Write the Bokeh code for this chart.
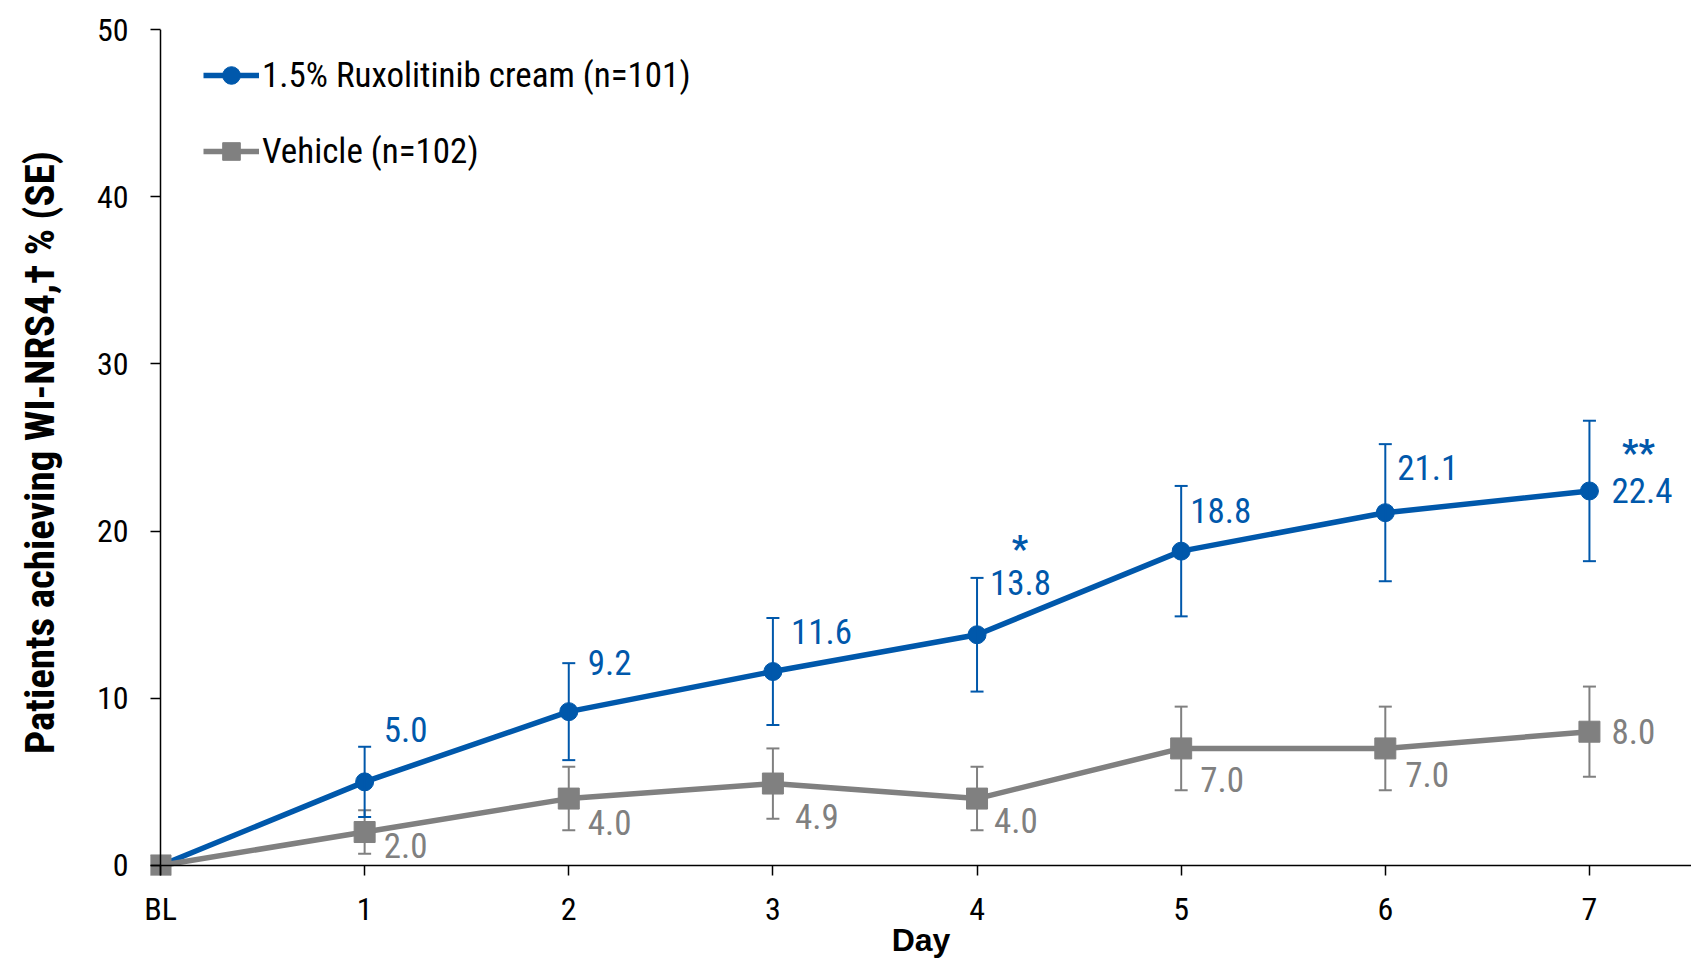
from bokeh.plotting import figure
from bokeh.models import (ColumnDataSource, Whisker, TeeHead, FixedTicker,
                          Legend, LegendItem, Span)
from bokeh.core.properties import value
from bokeh.embed import file_html
from bokeh.resources import INLINE

# ---- data -------------------------------------------------------------
days = [0, 1, 2, 3, 4, 5, 6, 7]
day_labels = ["BL", "1", "2", "3", "4", "5", "6", "7"]
rux_pct = [0.0, 5.0, 9.2, 11.6, 13.8, 18.8, 21.1, 22.4]
rux_se = [0.0, 2.1, 2.9, 3.2, 3.4, 3.9, 4.1, 4.2]
veh_pct = [0.0, 2.0, 4.0, 4.9, 4.0, 7.0, 7.0, 8.0]
veh_se = [0.0, 1.3, 1.9, 2.1, 1.9, 2.5, 2.5, 2.7]
sig_days = [4, 7]
sig_marks = ["*", "**"]
y_ticks = [0, 10, 20, 30, 40, 50]

# ---- styling ------------------------------------------------------------
BLUE = "#0058AB"
GREY = "#808080"
FONT = "Roboto Condensed"

# pixel nudges for the value labels (label left edge / vertical centre)
rux_dx = [0, 19, 19, 18, 13, 9, 12, 22]
rux_dy = [0, -52, -49, -40, -52, -41, -45, 0]
veh_dx = [0, 19, 19, 22, 17, 19, 20, 22]
veh_dy = [0, 13, 24, 33, 22, 31, 26, 0]
sig_dx = [43, 49]
sig_dy = [-86, -38]

p = figure(width=1691, height=960, output_backend="svg", toolbar_location=None,
           x_range=(-0.049, 7.5), y_range=(-0.6, 50),
           min_border_left=150, min_border_right=0,
           min_border_top=29, min_border_bottom=85)
p.outline_line_color = None
p.xgrid.visible = False
p.ygrid.visible = False

# axis lines through the data origin (frame edges sit a little outside it
# so the baseline markers are drawn whole)
p.add_layout(Span(location=0, dimension="width", line_color="black", line_width=1.5))
p.add_layout(Span(location=0, dimension="height", line_color="black", line_width=1.5))

for ax in (p.xaxis[0], p.yaxis[0]):
    ax.axis_line_color = None
    ax.major_tick_line_color = "black"
    ax.major_tick_line_width = 1.5
    ax.major_tick_in = 10
    ax.major_tick_out = 0
    ax.minor_tick_line_color = None
    ax.major_label_text_font = FONT
    ax.major_label_text_font_size = "32px"
    ax.major_label_text_color = "black"
    ax.axis_label_text_font_style = "bold"
    ax.axis_label_text_color = "black"

p.xaxis.bounds = (0, 7.5)
p.xaxis.ticker = FixedTicker(ticks=days)
p.xaxis.major_label_overrides = {d: lab for d, lab in zip(days, day_labels)}
p.xaxis.major_label_standoff = 14
p.xaxis.axis_label = "Day"
p.xaxis.axis_label_text_font = "Liberation Sans"
p.xaxis.axis_label_text_font_size = "32px"
p.xaxis.axis_label_standoff = -9

p.yaxis.ticker = FixedTicker(ticks=y_ticks)
p.yaxis.major_label_standoff = 22
p.yaxis.axis_label = "Patients achieving WI-NRS4,\u2020 % (SE)"
p.yaxis.axis_label_text_font = FONT
p.yaxis.axis_label_text_font_size = "41px"
p.yaxis.axis_label_standoff = 30

# ---- error bars -----------------------------------------------------------
def err_source(vals, se):
    return ColumnDataSource(dict(
        x=days[1:],
        upper=[v + s for v, s in zip(vals[1:], se[1:])],
        lower=[v - s for v, s in zip(vals[1:], se[1:])],
    ))

for vals, se, col in ((veh_pct, veh_se, GREY), (rux_pct, rux_se, BLUE)):
    p.add_layout(Whisker(source=err_source(vals, se), base="x", upper="upper",
                         lower="lower", line_color=col, line_width=2,
                         upper_head=TeeHead(size=13, line_color=col, line_width=2),
                         lower_head=TeeHead(size=13, line_color=col, line_width=2),
                         level="glyph"))

# ---- series -----------------------------------------------------------------
rux_src = ColumnDataSource(dict(x=days, y=rux_pct))
veh_src = ColumnDataSource(dict(x=days, y=veh_pct))

rux_line = p.line("x", "y", source=rux_src, line_color=BLUE, line_width=5.5)
rux_pts = p.scatter("x", "y", source=rux_src, marker="circle", size=18,
                    fill_color=BLUE, line_color=BLUE)
veh_line = p.line("x", "y", source=veh_src, line_color=GREY, line_width=5.5)
veh_pts = p.scatter("x", "y", source=veh_src, marker="square", size=21,
                    fill_color=GREY, line_color=GREY)

# ---- value labels -------------------------------------------------------------
rux_lab = ColumnDataSource(dict(x=days[1:], y=rux_pct[1:],
                                t=[f"{v:.1f}" for v in rux_pct[1:]],
                                dx=rux_dx[1:], dy=rux_dy[1:]))
veh_lab = ColumnDataSource(dict(x=days[1:], y=veh_pct[1:],
                                t=[f"{v:.1f}" for v in veh_pct[1:]],
                                dx=veh_dx[1:], dy=veh_dy[1:]))
for src, col in ((rux_lab, BLUE), (veh_lab, GREY)):
    p.text("x", "y", text="t", source=src, x_offset="dx", y_offset="dy",
           text_font=value(FONT), text_font_size="35px", text_color=col,
           text_align="left", text_baseline="middle")

sig_src = ColumnDataSource(dict(x=sig_days,
                                y=[rux_pct[d] for d in sig_days],
                                t=sig_marks, dx=sig_dx, dy=sig_dy))
p.text("x", "y", text="t", source=sig_src, x_offset="dx", y_offset="dy",
       text_font=value(FONT), text_font_style="bold", text_font_size="36px",
       text_color=BLUE, text_align="center", text_baseline="middle")

# ---- legend -------------------------------------------------------------------
legend = Legend(items=[
    LegendItem(label="1.5% Ruxolitinib cream (n=101)", renderers=[rux_line, rux_pts]),
    LegendItem(label="Vehicle (n=102)", renderers=[veh_line, veh_pts]),
], location=(53, 702), orientation="vertical",
    padding=0, margin=0, spacing=32,
    glyph_width=56, glyph_height=44, label_height=44, label_standoff=3,
    label_text_font=FONT, label_text_font_size="35px", label_text_color="black",
    border_line_color=None, background_fill_alpha=0)
p.add_layout(legend, "center")

open("out.html", "w").write(file_html(p, INLINE))
